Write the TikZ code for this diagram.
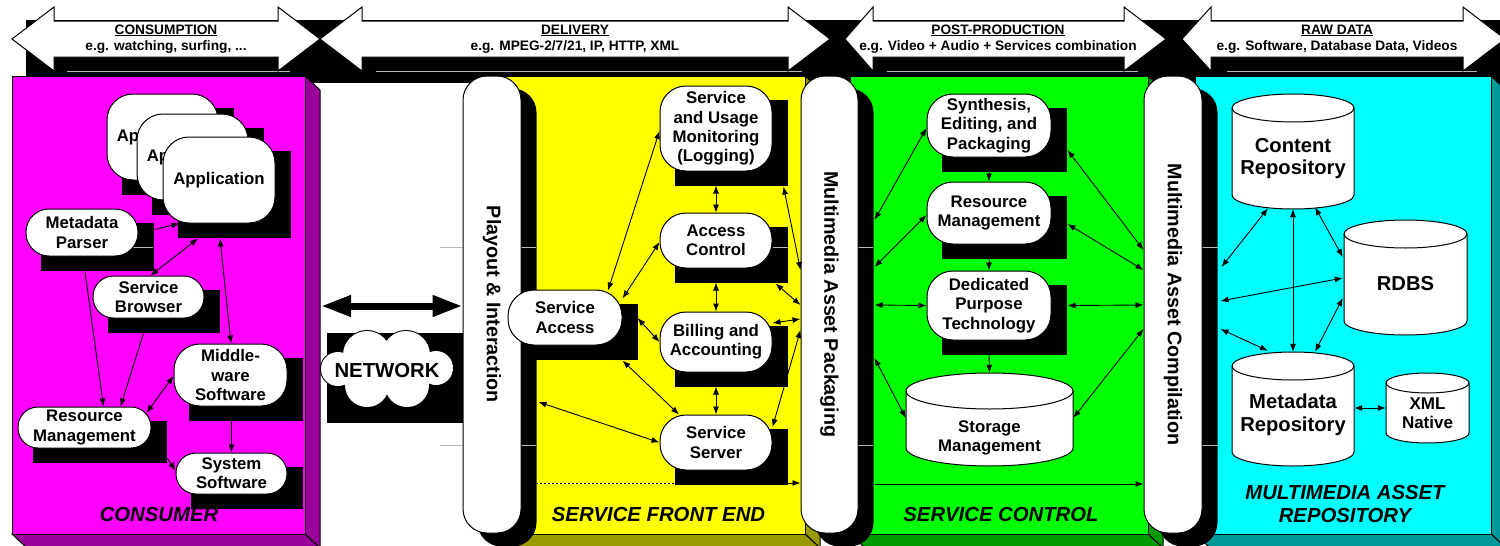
\documentclass[tikz,border=0pt]{standalone}
\usepackage{fontspec}
\usepackage{graphicx}
\setmainfont{Liberation Sans}
\usetikzlibrary{arrows.meta,calc}
\pgfdeclarelayer{boxes}
\pgfdeclarelayer{shade}
\pgfsetlayers{boxes,shade,main}

\definecolor{mag}{HTML}{FF00FF}\definecolor{magD}{HTML}{990099}
\definecolor{yel}{HTML}{FFFF00}\definecolor{yelD}{HTML}{999900}
\definecolor{grn}{HTML}{00FF00}\definecolor{grnD}{HTML}{009900}
\definecolor{cya}{HTML}{00FFFF}\definecolor{cyaD}{HTML}{009999}

\newcommand\fN{\bfseries\fontsize{16.8}{19.3}\selectfont}
\newcommand\fP{\bfseries\fontsize{19.7}{22}\selectfont}
\newcommand\fC{\bfseries\fontsize{20.2}{22.7}\selectfont}
\newcommand\fB{\bfseries\fontsize{13.7}{16.5}\selectfont}
\newcommand\fL{\bfseries\itshape\fontsize{20.3}{23}\selectfont}
\newcommand\fX{\bfseries\fontsize{17}{19}\selectfont}

% double-headed banner arrow: left tip, left head back, right head back, right tip
\newcommand\banner[4]{%
  \filldraw[draw=black,line width=1pt,fill=white]
    (#1,39) -- (#2,7) -- (#2,21) -- (#3,21) -- (#3,7) -- (#4,39)
    -- (#3,71) -- (#3,57) -- (#2,57) -- (#2,71) -- cycle;}
% 3D block: x1 y1 x2 y2 front colour, side colour
\newcommand\tdbox[6]{%
  \filldraw[draw=black,line width=1pt,fill=#6] (#3,#2) -- (#3+15,#2+14) -- (#3+15,#4+14) -- (#3,#4) -- cycle;
  \filldraw[draw=black,line width=1pt,fill=#6] (#1,#4) -- (#3,#4) -- (#3+15,#4+14) -- (#1+15,#4+14) -- cycle;
  \filldraw[draw=black,line width=1pt,fill=#5] (#1,#2) rectangle (#3,#4);}
% database cylinder: x1 y1 x2 y2 ellipse radius (y grows downwards)
\newcommand\cylshape[5]{%
  \pgfmathsetmacro\cA{(#1+#3)/2}%
  \pgfmathsetmacro\kx{0.5523*(#3-#1)/2}%
  \pgfmathsetmacro\ky{0.5523*#5}%
  \pgfmathsetmacro\yT{#2+#5}%
  \pgfmathsetmacro\yB{#4-#5}%
  \pgfmathsetmacro\yM{#2+2*#5}%
  \filldraw[draw=black,line width=1pt,fill=white]
    (#1,\yT) -- (#1,\yB)
    .. controls (#1,\yB+\ky) and (\cA-\kx,#4) .. (\cA,#4)
    .. controls (\cA+\kx,#4) and (#3,\yB+\ky) .. (#3,\yB)
    -- (#3,\yT)
    .. controls (#3,\yT-\ky) and (\cA+\kx,#2) .. (\cA,#2)
    .. controls (\cA-\kx,#2) and (#1,\yT-\ky) .. (#1,\yT) -- cycle;
  \draw[line width=1pt] (#1,\yT)
    .. controls (#1,\yT+\ky) and (\cA-\kx,\yM) .. (\cA,\yM)
    .. controls (\cA+\kx,\yM) and (#3,\yT+\ky) .. (#3,\yT);}

\tikzset{
  nb/.style={draw=black,line width=1pt,fill=white,inner sep=0pt,align=center,font=\fN},
  pill/.style={draw=black,line width=1pt,fill=white,inner sep=0pt,rounded corners=24pt,
               minimum height=457pt,font=\fP},
  cyl/.style={inner sep=0pt},
  cyltxt/.style={inner sep=0pt,align=center,font=\fC},
  btxt/.style={inner sep=0pt,align=center,font=\fB},
  lbl/.style={inner sep=0pt,align=center,font=\fL},
  bi/.style={line width=0.9pt,{Latex[length=8pt,width=6pt]}-{Latex[length=8pt,width=6pt]}},
  one/.style={line width=0.9pt,-{Latex[length=8pt,width=6pt]}},
  fat/.style={line width=7pt,{Triangle[length=30pt,width=20pt]}-{Triangle[length=30pt,width=20pt]}},
  pageline/.style={gray!55,line width=0.8pt}
}

\begin{document}
\begin{tikzpicture}[x=1pt,y=-1pt]
\useasboundingbox (0,0) rectangle (1500,546);

% ---------- banner captions
\node[btxt] (bt1) at (166,39) {\underline{CONSUMPTION}\\e.g. watching, surfing, ...};
\node[btxt] (bt2) at (575,39) {\underline{DELIVERY}\\e.g. MPEG-2/7/21, IP, HTTP, XML};
\node[btxt] (bt3) at (998,39) {\underline{POST-PRODUCTION}\\e.g. Video + Audio + Services combination};
\node[btxt] (bt4) at (1337,39) {\underline{RAW DATA}\\e.g. Software, Database Data, Videos};

% ---------- consumer
\node[nb,minimum width=111pt,minimum height=86pt,rounded corners=26pt] (app1) at (162.5,137) {Application};
\node[nb,minimum width=111pt,minimum height=86pt,rounded corners=26pt] (app2) at (192.5,157) {Application};
\node[nb,minimum width=112pt,minimum height=86pt,rounded corners=26pt] (app3) at (219,180) {Application};
\node[nb,minimum width=112pt,minimum height=47pt,rounded corners=23pt] (mdp) at (82,232.5) {Metadata\\Parser};
\node[nb,minimum width=111pt,minimum height=42pt,rounded corners=20.5pt] (sb) at (148.5,297) {Service\\Browser};
\node[nb,minimum width=113pt,minimum height=62pt,rounded corners=26pt] (mw) at (230.5,375) {Middle-\\ware\\Software};
\node[nb,minimum width=133pt,minimum height=41pt,rounded corners=20pt] (rm) at (84.5,427.5) {Resource\\Management};
\node[nb,minimum width=111pt,minimum height=41pt,rounded corners=20pt] (ss) at (231.5,473.5) {System\\Software};
\node[lbl] (lblC) at (159,515) {CONSUMER};

% ---------- network
\node[inner sep=0pt,font=\bfseries\fontsize{20.3}{23}\selectfont] (net) at (387,371) {NETWORK};

% ---------- pillars
\node[pill,minimum width=58pt] (playout) at (492,304.5) {\rotatebox{-90}{Playout \& Interaction}};
\node[pill,minimum width=57pt] (pack) at (829.5,304.5) {\rotatebox{-90}{Multimedia Asset Packaging}};
\node[pill,minimum width=58pt] (comp) at (1173,304.5) {\rotatebox{-90}{Multimedia Asset Compilation}};

% ---------- service front end
\node[nb,minimum width=112pt,minimum height=85pt,rounded corners=26pt] (sum) at (716,128.5) {Service\\and Usage\\Monitoring\\(Logging)};
\node[nb,minimum width=112pt,minimum height=55pt,rounded corners=26pt] (ac) at (716,240.5) {Access\\Control};
\node[nb,minimum width=112pt,minimum height=60pt,rounded corners=26pt] (ba) at (716,342) {Billing and\\Accounting};
\node[nb,minimum width=112pt,minimum height=55pt,rounded corners=26pt] (ssrv) at (716,442.5) {Service\\Server};
\node[nb,minimum width=114pt,minimum height=55pt,rounded corners=26pt] (sa) at (565,317.5) {Service\\Access};
\node[lbl] (lblF) at (658.5,515) {SERVICE FRONT END};

% ---------- service control
\node[nb,minimum width=124pt,minimum height=63pt,rounded corners=26pt] (sep) at (989,125.5) {Synthesis,\\Editing, and\\Packaging};
\node[nb,minimum width=124pt,minimum height=62pt,rounded corners=26pt] (grm) at (989,213) {Resource\\Management};
\node[nb,minimum width=124pt,minimum height=69pt,rounded corners=26pt] (dpt) at (989,305.5) {Dedicated\\Purpose\\Technology};
\node[cyl,minimum width=167pt,minimum height=93pt] (stm) at (989.5,419.5) {};
\node[inner sep=0pt,align=center,font=\fN] (stmT) at (989.5,438) {Storage\\Management};
\node[lbl] (lblS) at (1001,515) {SERVICE CONTROL};

% ---------- asset repository
\node[cyl,minimum width=122pt,minimum height=115pt] (cr) at (1293,151.5) {};
\node[cyltxt] (crT) at (1293,158.5) {Content\\Repository};
\node[cyl,minimum width=123pt,minimum height=115pt] (rdbs) at (1405.5,277.5) {};
\node[cyltxt] (rdbsT) at (1405.5,284) {RDBS};
\node[cyl,minimum width=122pt,minimum height=114pt] (mr) at (1293,409) {};
\node[cyltxt] (mrT) at (1293,414.5) {Metadata\\Repository};
\node[cyl,minimum width=83pt,minimum height=70pt] (xml) at (1427.5,408) {};
\node[inner sep=0pt,align=center,font=\fX] (xmlT) at (1427.5,413.5) {XML\\Native};
\node[lbl] (lblR) at (1345,504) {MULTIMEDIA ASSET\\REPOSITORY};

% ---------- background: banners and blocks
\begin{pgfonlayer}{boxes}
  \fill[black] (26,20) rectangle (1500,83);
  \draw[pageline] (67,71) -- (290,71) (376,71) -- (802,71) (887,71) -- (1138,71) (1227,71) -- (1477,71);
  \banner{12}{54}{278}{320}
  \banner{320}{362}{788}{830}
  \banner{845}{873}{1124}{1166}
  \banner{1182}{1211}{1463}{1505}
  \tdbox{12}{76}{305}{534}{mag}{magD}
  \tdbox{500}{76}{805}{534}{yel}{yelD}
  \tdbox{850}{76}{1148}{534}{grn}{grnD}
  \tdbox{1195}{76}{1491}{534}{cya}{cyaD}
  % playout to packaging feed, partly hidden behind the server shadow
  \draw[one] ($(playout.east)+(15,178.5)$) -- ($(pack.west)+(0,178.5)$);
  \draw[white,line width=0.7pt,dash pattern=on 2pt off 2pt] ($(playout.east)+(16,178.5)$) -- ($(ssrv.south west)+(15,12.5)$);
\end{pgfonlayer}

% ---------- shadows, cloud, cylinders
\begin{pgfonlayer}{shade}
  \foreach \n in {app1,app2,app3,mdp,sb,mw,rm,ss,sum,ac,ba,ssrv,sa,sep,grm,dpt}
    \fill[black] ($(\n.north west)+(15,14)$) rectangle ($(\n.south east)+(15,14)$);
  \foreach \n in {playout,pack,comp}
    \fill[black,rounded corners=24pt] ($(\n.north west)+(15,13)$) rectangle ($(\n.south east)+(15,13)$);
  % network cloud
  \fill[black] (327,333) rectangle (465,423);
  \foreach \cx/\cy/\r in {338/369/17,436/368/17,367/355/24,406/355/24,367/385/22,407/385/22}
    \draw[black,line width=2pt] (\cx,\cy) circle[radius=\r pt];
  \foreach \cx/\cy/\r in {338/369/17,436/368/17,367/355/24,406/355/24,367/385/22,407/385/22}
    \fill[white] (\cx,\cy) circle[radius=\r pt];
  \fill[white] (345,358) rectangle (430,382);
  % databases
  \cylshape{906}{373}{1073}{466}{18}
  \cylshape{1232}{94}{1354}{209}{14}
  \cylshape{1344}{220}{1467}{335}{14}
  \cylshape{1232}{352}{1354}{466}{14}
  \cylshape{1386}{373}{1469}{443}{10}
  % page guide lines
  \draw[pageline] (133,247) -- (153,247) (440,247) -- (463,247) (521,247) -- (536,247)
        (773,247) -- (788,247) (858,247) -- (873,247) (1202,247) -- (1218,247)
        (440,445) -- (463,445) (521,445) -- (536,445) (858,445) -- (873,445) (1202,445) -- (1218,445);
\end{pgfonlayer}

% ---------- connectors: consumer
\draw[one] ($(mdp.east)+(16,-3)$) -- ($(app3.south west)+(17,0)$);
\draw[bi] ($(app3.south)+(-21,15)$) -- ($(sb.north)+(2,0)$);
\draw[bi] ($(app3.south)+(1,15)$) -- ($(mw.north)+(0.5,0)$);
\draw[one] ($(mdp.south)+(3,15)$) -- ($(rm.north)+(19,0)$);
\draw[one] ($(sb.south)+(-5,15)$) -- ($(rm.north)+(36,0)$);
\draw[bi] ($(mw.west)+(0,1)$) -- ($(rm.north east)+(-5,6.5)$);
\draw[one] ($(mw.south)+(1,14)$) -- (ss.north);
\draw[one] ($(rm.south east)+(16,10)$) -- ($(ss.west)+(0,-3)$);

% ---------- connectors: network
\coordinate (netL) at (321,306);
\draw[fat] (netL) -- ($(playout.west)+(0,1.5)$);

% ---------- connectors: service front end
\draw[bi] ($(sum.south)+(0,14)$) -- (ac.north);
\draw[bi] ($(ac.south)+(0,14)$) -- (ba.north);
\draw[bi] ($(ba.south)+(0,14)$) -- (ssrv.north);
\draw[bi] ($(sa.north)+(43,1)$) -- ($(sum.west)+(0,2.5)$);
\draw[bi] ($(sa.north east)+(0,9)$) -- ($(ac.west)+(0,1.5)$);
\draw[bi] ($(sa.east)+(15,0.5)$) -- (ba.west);
\draw[bi] ($(sa.south east)+(0,15)$) -- ($(ssrv.north)+(-37,0)$);
\draw[bi] ($(playout.east)+(17,97.5)$) -- (ssrv.west);
\draw[bi] ($(sum.south east)+(11,15)$) -- ($(pack.west)+(0,-34.5)$);
\draw[bi] ($(ac.south east)+(3,15)$) -- ($(pack.west)+(0,0.5)$);
\draw[bi] ($(ba.east)+(0,-19)$) -- ($(pack.west)+(0,14.5)$);
\draw[bi] ($(ssrv.east)+(0,-15.5)$) -- ($(pack.west)+(0,25.5)$);

% ---------- connectors: service control
\draw[one] ($(sep.south)+(0,14)$) -- (grm.north);
\draw[one] ($(grm.south)+(0,14)$) -- (dpt.north);
\draw[one] ($(dpt.south)+(0,14)$) -- (stm.north);
\draw[bi] ($(pack.east)+(16,-84.5)$) -- ($(sep.west)+(0,2.5)$);
\draw[bi] ($(pack.east)+(16,-37.5)$) -- ($(grm.west)+(0,2)$);
\draw[bi] ($(pack.east)+(16,0.5)$) -- (dpt.west);
\draw[bi] ($(pack.east)+(16,53.5)$) -- ($(stm.west)+(0,-1.5)$);
\draw[bi] ($(sep.east)+(16,24.5)$) -- ($(comp.west)+(0,-54.5)$);
\draw[bi] ($(grm.east)+(16,11)$) -- ($(comp.west)+(0,-34.5)$);
\draw[bi] ($(dpt.east)+(16,0)$) -- ($(comp.west)+(0,0.5)$);
\draw[bi] ($(stm.east)+(0,-1.5)$) -- ($(comp.west)+(0,24.5)$);
\draw[one] ($(pack.east)+(16,179.5)$) -- ($(comp.west)+(0,179.5)$);

% ---------- connectors: asset repository
\draw[bi] ($(comp.east)+(19,-37.5)$) -- ($(cr.south)+(-25,-1)$);
\draw[bi] (cr.south) -- (mr.north);
\draw[bi] ($(cr.south)+(22,-2)$) -- ($(rdbs.west)+(-1,-20.5)$);
\draw[bi] ($(comp.east)+(18,-3.5)$) -- ($(rdbs.west)+(-1,0.5)$);
\draw[bi] ($(comp.east)+(18,24.5)$) -- ($(mr.north)+(-25,-1)$);
\draw[bi] ($(rdbs.west)+(-1,20.5)$) -- ($(mr.north)+(22,0)$);
\draw[bi] ($(mr.east)+(0,-1)$) -- (xml.west);
\end{tikzpicture}
\end{document}
